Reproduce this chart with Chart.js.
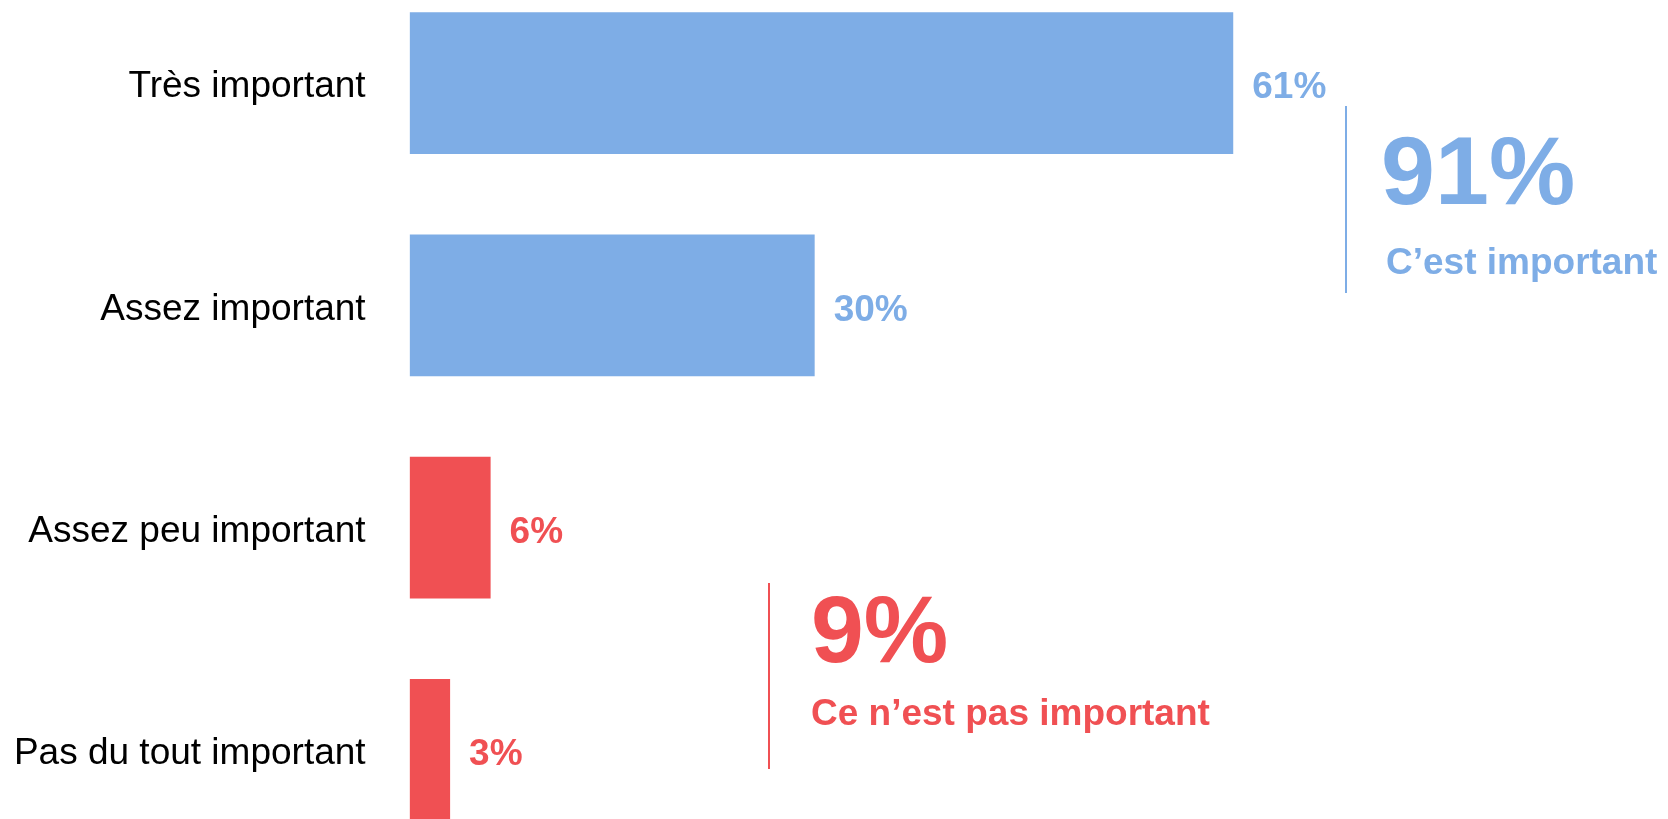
<!DOCTYPE html>
<html lang="fr">
<head>
  <meta charset="UTF-8" />
  <title>Importance – répartition</title>
  <script src="https://cdn.jsdelivr.net/npm/chart.js"></script>
  <style>
    html, body {
      margin: 0;
      padding: 0;
      background: #fff;
      overflow: hidden;
      width: 1668px;
      height: 819px;
    }
    #chart {
      position: absolute;
      left: 0;
      top: -28px;
    }
  </style>
</head>
<body>
  <canvas id="chart" width="1668" height="889"></canvas>

  <script>
    // data
    const categories = ['Très important', 'Assez important', 'Assez peu important', 'Pas du tout important'];
    const values = [61, 30, 6, 3];
    const groupOf = [0, 0, 1, 1];
    const groupNames = ['C’est important', 'Ce n’est pas important'];
    const groupColors = ['#7eade6', '#f05053'];

    const groupTotals = groupNames.map((_, g) =>
      values.reduce((s, v, i) => s + (groupOf[i] === g ? v : 0), 0));

    const FONT = '"Liberation Sans", Arial, sans-serif';

    // value labels at the end of each bar
    const valueLabels = {
      id: 'valueLabels',
      afterDatasetsDraw(chart) {
        const ctx = chart.ctx;
        const meta = chart.getDatasetMeta(0);
        ctx.save();
        ctx.font = 'bold 37px ' + FONT;
        ctx.textAlign = 'left';
        ctx.textBaseline = 'middle';
        meta.data.forEach((bar, i) => {
          ctx.fillStyle = groupColors[groupOf[i]];
          ctx.fillText(values[i] + '%', bar.x + 19, bar.y + 5);
        });
        ctx.restore();
      }
    };

    // group totals with a vertical rule
    const totals = {
      id: 'totals',
      afterDraw(chart) {
        const ctx = chart.ctx;
        const off = 28; // canvas is shifted up by this much
        const spots = [
          { line: 1346, y0: 106, y1: 293, bigX: 1381, bigY: 204, bigSize: 97, subX: 1386, subY: 274 },
          { line: 769, y0: 583, y1: 769, bigX: 811, bigY: 662, bigSize: 95, subX: 811, subY: 725 }
        ];
        ctx.save();
        spots.forEach((s, g) => {
          ctx.strokeStyle = groupColors[g];
          ctx.fillStyle = groupColors[g];
          ctx.lineWidth = 2;
          ctx.beginPath();
          ctx.moveTo(s.line, s.y0 + off);
          ctx.lineTo(s.line, s.y1 + off);
          ctx.stroke();
          ctx.textAlign = 'left';
          ctx.textBaseline = 'alphabetic';
          ctx.font = 'bold ' + s.bigSize + 'px ' + FONT;
          ctx.fillText(groupTotals[g] + '%', s.bigX, s.bigY + off);
          ctx.font = 'bold 37px ' + FONT;
          ctx.fillText(groupNames[g], s.subX, s.subY + off);
        });
        ctx.restore();
      }
    };

    new Chart(document.getElementById('chart'), {
      type: 'bar',
      data: {
        labels: categories,
        datasets: [{
          data: values,
          backgroundColor: values.map((_, i) => groupColors[groupOf[i]]),
          borderWidth: 0,
          categoryPercentage: 1,
          barPercentage: 0.637
        }]
      },
      options: {
        indexAxis: 'y',
        responsive: false,
        animation: false,
        layout: { padding: 0 },
        plugins: {
          legend: { display: false },
          tooltip: { enabled: false }
        },
        scales: {
          x: {
            display: false,
            min: 0,
            max: 93.2
          },
          y: {
            grid: { display: false, drawTicks: false },
            border: { display: false },
            ticks: {
              color: '#000',
              padding: 44,
              labelOffset: 4,
              font: { family: FONT, size: 37 }
            },
            afterFit(scale) {
              scale.width = 409.6;
              scale.paddingTop = 0;
              scale.paddingBottom = 0;
            }
          }
        }
      },
      plugins: [valueLabels, totals]
    });
  </script>
</body>
</html>
